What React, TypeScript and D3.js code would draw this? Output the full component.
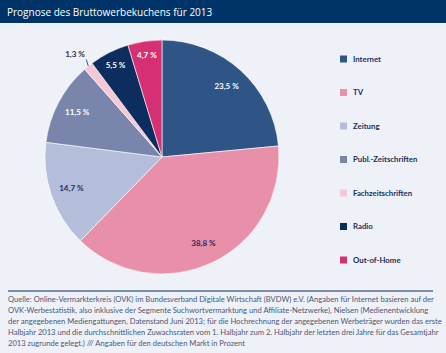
import React, { useEffect, useRef } from "react";
import * as d3 from "d3";

const title = "Prognose des Bruttowerbekuchens für 2013";
const categories = [
  "Internet",
  "TV",
  "Zeitung",
  "Publ.-Zeitschriften",
  "Fachzeitschriften",
  "Radio",
  "Out-of-Home",
];
const shares = [23.5, 38.8, 14.7, 11.5, 1.3, 5.5, 4.7];
const colors = [
  "#2f5486",
  "#e890aa",
  "#b4bdda",
  "#7985ab",
  "#f5c8d8",
  "#0d2d5e",
  "#d72f74",
];
const footnote = [
  "Quelle: Online-Vermarkterkreis (OVK) im Bundesverband Digitale Wirtschaft (BVDW) e.V. (Angaben für Internet basieren auf der",
  "OVK-Werbestatistik, also inklusive der Segmente Suchwortvermarktung und Affiliate-Netzwerke), Nielsen (Medienentwicklung",
  "der angegebenen Mediengattungen, Datenstand Juni 2013; für die Hochrechnung der angegebenen Werbeträger wurden das erste",
  "Halbjahr 2013 und die durchschnittlichen Zuwachsraten vom 1. Halbjahr zum 2. Halbjahr der letzten drei Jahre für das Gesamtjahr",
  "2013 zugrunde gelegt.) /// Angaben für den deutschen Markt in Prozent",
];

const width = 446;
const height = 353;
const cx = 162;
const cy = 157;
const radius = 117;
const navy = "#1b2f5c";

const fmt = (v: number) => `${v.toFixed(1).replace(".", ",")} %`;

export default function App() {
  const gPie = useRef<SVGGElement>(null);

  useEffect(() => {
    if (!gPie.current) return;
    const data = categories.map((name, i) => ({ name, value: shares[i], color: colors[i] }));
    const pie = d3.pie<(typeof data)[0]>().value((d) => d.value).sort(null);
    const arcs = pie(data);
    const arc = d3.arc<d3.PieArcDatum<(typeof data)[0]>>().innerRadius(0).outerRadius(radius);
    const ring = (r: number) => d3.arc<any>().innerRadius(r).outerRadius(r);

    const g = d3.select(gPie.current);
    g.selectAll("path")
      .data(arcs)
      .join("path")
      .attr("d", arc)
      .attr("fill", (d) => d.data.color)
      .attr("stroke", "#ffffff")
      .attr("stroke-width", 0.6);

    const labelPos = (d: d3.PieArcDatum<(typeof data)[0]>) => {
      const r = d.data.value < 2 ? 138 : d.data.value < 6 ? 103 : 96;
      return ring(r).centroid(d);
    };

    const dark = new Set(["Internet", "Publ.-Zeitschriften", "Radio", "Out-of-Home"]);
    g.selectAll("text")
      .data(arcs)
      .join("text")
      .attr("x", (d) => labelPos(d)[0])
      .attr("y", (d) => labelPos(d)[1] + (d.data.value < 2 ? 4 : 0))
      .attr("dy", "0.35em")
      .attr("text-anchor", "middle")
      .attr("font-family", "Lato, sans-serif")
      .attr("font-weight", "bold")
      .attr("font-size", 8)
      .attr("fill", (d) => (dark.has(d.data.name) ? "#ffffff" : navy))
      .text((d) => fmt(d.data.value));

    // leader for the tiny slice
    const small = arcs.filter((d) => d.data.value < 2);
    g.selectAll("line")
      .data(small)
      .join("line")
      .attr("x1", (d) => ring(128).centroid(d)[0] + 5)
      .attr("y1", (d) => ring(128).centroid(d)[1] + 2)
      .attr("x2", (d) => ring(117).centroid(d)[0])
      .attr("y2", (d) => ring(117).centroid(d)[1])
      .attr("stroke", navy)
      .attr("stroke-width", 0.8);
  }, []);

  const legendY = d3
    .scalePoint<string>()
    .domain(categories)
    .range([59, 260]);

  return (
    <svg
      width={width}
      height={height}
      style={{ position: "absolute", left: 0, top: 0 }}
    >
      <rect width={width} height={height} fill="#eef1f7" />
      <rect width={width} height={23} fill="#003468" />
      <text
        x={7}
        y={16}
        fill="#ffffff"
        fontFamily="'Open Sans', sans-serif"
        fontSize={10}
      >
        {title}
      </text>
      <g transform={`translate(${cx},${cy})`} ref={gPie}></g>
      <g>
        {categories.map((c, i) => (
          <g key={c} transform={`translate(340,${legendY(c)})`}>
            <rect x={0} y={-3.5} width={7} height={7} fill={colors[i]} />
            <text
              x={13}
              y={0}
              dy="0.35em"
              fontFamily="Lato, sans-serif"
              fontWeight="bold"
              fontSize={7.8}
              fill={navy}
            >
              {c}
            </text>
          </g>
        ))}
      </g>
      <line x1={8} x2={433} y1={291} y2={291} stroke="#0d2d5e" strokeWidth={1} />
      {footnote.map((t, i) => (
        <text
          key={i}
          x={8}
          y={302 + i * 11}
          fontFamily="Lato, sans-serif"
          fontSize={7.6}
          fill="#4b5878"
        >
          {t}
        </text>
      ))}
    </svg>
  );
}
